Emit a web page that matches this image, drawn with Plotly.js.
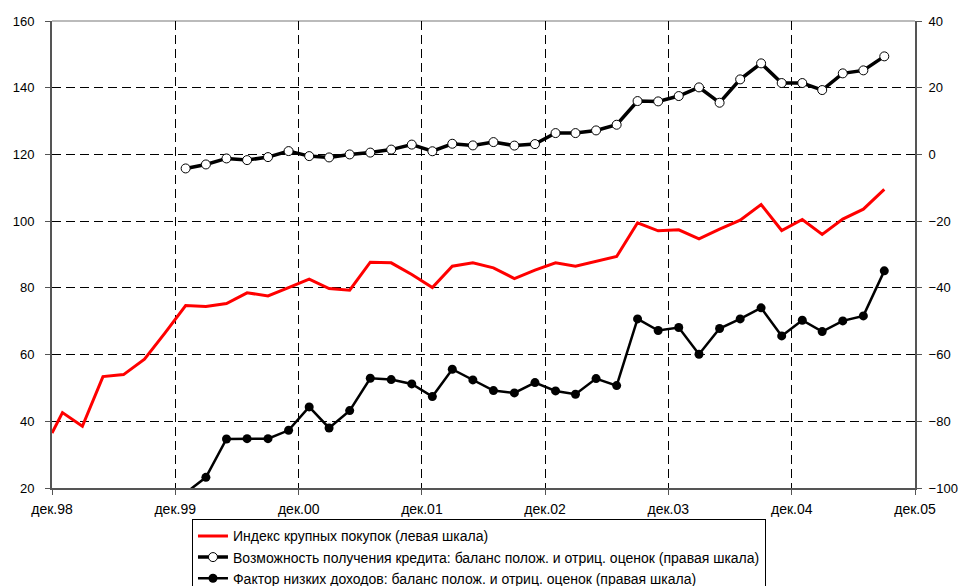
<!DOCTYPE html>
<html>
<head>
<meta charset="utf-8">
<script src="https://cdn.plot.ly/plotly-3.0.1.min.js"></script>
<style>html,body{margin:0;padding:0;background:#fff;}#chart{width:959px;height:586px;}</style>
</head>
<body>
<div id="chart"></div>
<script>
// Bimonthly survey dates
const redDates = ['1998-12-01',
 '1999-01-01','1999-03-01','1999-05-01','1999-07-01','1999-09-01','1999-11-01',
 '2000-01-01','2000-03-01','2000-05-01','2000-07-01','2000-09-01','2000-11-01',
 '2001-01-01','2001-03-01','2001-05-01','2001-07-01','2001-09-01','2001-11-01',
 '2002-01-01','2002-03-01','2002-05-01','2002-07-01','2002-09-01','2002-11-01',
 '2003-01-01','2003-03-01','2003-05-01','2003-07-01','2003-09-01','2003-11-01',
 '2004-01-01','2004-03-01','2004-05-01','2004-07-01','2004-09-01','2004-11-01',
 '2005-01-01','2005-03-01','2005-05-01','2005-07-01','2005-09-01'];
const balanceDates = [
 '2000-01-01','2000-03-01','2000-05-01','2000-07-01','2000-09-01','2000-11-01',
 '2001-01-01','2001-03-01','2001-05-01','2001-07-01','2001-09-01','2001-11-01',
 '2002-01-01','2002-03-01','2002-05-01','2002-07-01','2002-09-01','2002-11-01',
 '2003-01-01','2003-03-01','2003-05-01','2003-07-01','2003-09-01','2003-11-01',
 '2004-01-01','2004-03-01','2004-05-01','2004-07-01','2004-09-01','2004-11-01',
 '2005-01-01','2005-03-01','2005-05-01','2005-07-01','2005-09-01'];

// Индекс крупных покупок (левая шкала)
const bigPurchases = [36.5,
 42.6,38.5,53.4,54.0,58.6,66.5,
 74.7,74.4,75.3,78.5,77.6,80.1,
 82.6,79.8,79.3,87.7,87.5,84.0,
 80.1,86.5,87.5,86.0,82.8,85.3,
 87.5,86.5,88.0,89.4,99.5,97.1,
 97.4,94.7,97.6,100.3,105.0,97.2,
 100.5,96.0,100.6,103.6,109.5];
// Возможность получения кредита (правая шкала)
const creditAvail = [
 -4.2,-3.0,-1.2,-1.7,-0.8,1.0,
 -0.5,-0.9,0.0,0.55,1.45,2.95,
 0.95,3.2,2.7,3.7,2.65,3.1,
 6.4,6.4,7.2,8.9,16.0,15.9,
 17.5,20.1,15.5,22.5,27.3,21.4,
 21.4,19.3,24.3,25.2,29.4];
// Фактор низких доходов (правая шкала)
const lowIncome = [
 -101.5,-96.8,-85.3,-85.2,-85.2,-82.7,
 -75.7,-82.0,-76.8,-67.1,-67.5,-68.8,
 -72.6,-64.4,-67.6,-70.8,-71.5,-68.4,
 -70.9,-71.9,-67.2,-69.3,-49.3,-52.8,
 -51.9,-59.9,-52.2,-49.3,-46.0,-54.4,
 -49.7,-53.1,-49.9,-48.4,-34.9];

const tickDates = ['1998-12-01','1999-12-01','2000-12-01','2001-12-01','2002-12-01','2003-12-01','2004-12-01','2005-12-01'];
const tickLabels = ['дек.98','дек.99','дек.00','дек.01','дек.02','дек.03','дек.04','дек.05'];
const seriesNames = [
 'Индекс крупных покупок (левая шкала)',
 'Возможность получения кредита: баланс полож. и отриц. оценок (правая шкала)',
 'Фактор низких доходов: баланс полож. и отриц. оценок (правая шкала)'];

const traces = [
 {x: redDates, y: bigPurchases, name: seriesNames[0], type: 'scatter', mode: 'lines',
  line: {color: '#ff0000', width: 3}, yaxis: 'y'},
 {x: balanceDates, y: creditAvail, name: seriesNames[1], type: 'scatter', mode: 'lines+markers',
  line: {color: '#000000', width: 3.5},
  marker: {symbol: 'circle', size: 9, color: '#ffffff', line: {color: '#000000', width: 1}}, yaxis: 'y2'},
 {x: balanceDates, y: lowIncome, name: seriesNames[2], type: 'scatter', mode: 'lines+markers',
  line: {color: '#000000', width: 2.5},
  marker: {symbol: 'circle', size: 9, color: '#000000'}, yaxis: 'y2'}
];

const fam = 'Liberation Sans, Arial, sans-serif';
const yFont = {family: fam, size: 13, color: '#000'};
const xFont = {family: fam, size: 14, color: '#000'};

const layout = {
 width: 959, height: 586,
 margin: {l: 52, r: 44, t: 21, b: 98, autoexpand: false},
 paper_bgcolor: '#ffffff', plot_bgcolor: '#ffffff',
 font: yFont,
 showlegend: true,
 xaxis: {
  type: 'date', range: ['1998-12-01', '2005-12-01'],
  tickmode: 'array', tickvals: tickDates, ticktext: tickLabels,
  showgrid: true, gridcolor: '#000', gridwidth: 1, griddash: '9px,5px',
  showline: true, linecolor: '#555', linewidth: 2,
  ticks: 'outside', ticklen: 5, tickcolor: '#555', tickwidth: 1,
  ticklabelstandoff: 2,
  zeroline: false, tickfont: xFont
 },
 yaxis: {
  range: [20, 160], dtick: 20, tick0: 20,
  showgrid: true, gridcolor: '#000', gridwidth: 1, griddash: '9px,5px',
  showline: true, linecolor: '#555', linewidth: 2,
  ticks: 'outside', ticklen: 5, tickcolor: '#555', tickwidth: 1,
  ticklabelstandoff: 8,
  zeroline: false, tickfont: yFont
 },
 yaxis2: {
  range: [-100, 40], dtick: 20, tick0: -100,
  overlaying: 'y', side: 'right', showgrid: false,
  showline: true, linecolor: '#555', linewidth: 2,
  ticks: 'outside', ticklen: 5, tickcolor: '#555', tickwidth: 1,
  ticklabelstandoff: 4,
  zeroline: false, tickfont: yFont
 },
 legend: {
  x: 0.1622, y: -0.067, xanchor: 'left', yanchor: 'top',
  orientation: 'v', bgcolor: '#ffffff', bordercolor: '#000', borderwidth: 1,
  font: {family: fam, size: 14, color: '#000'},
  tracegroupgap: 0, itemwidth: 30
 },
 shapes: [
  {type: 'line', xref: 'paper', yref: 'paper', x0: 0, x1: 1, y0: 1, y1: 1,
   line: {color: '#bbbbbb', width: 2}, layer: 'below'}
 ]
};

Plotly.newPlot('chart', traces, layout, {displayModeBar: false, staticPlot: true});
</script>
</body>
</html>
